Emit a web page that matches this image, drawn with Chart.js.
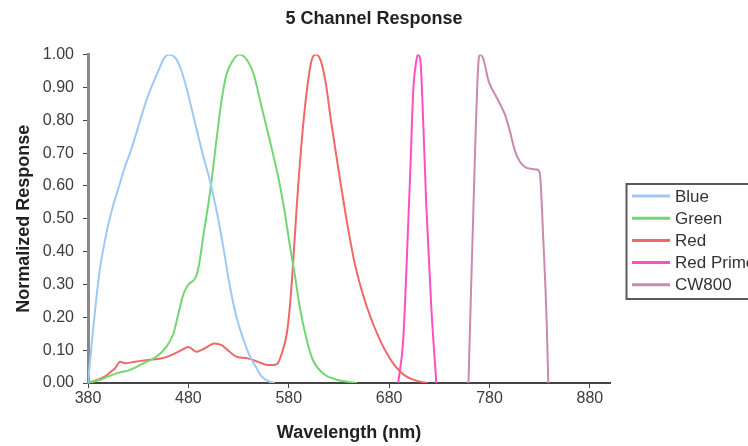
<!DOCTYPE html>
<html>
<head>
<meta charset="utf-8">
<title>5 Channel Response</title>
<script src="https://cdn.jsdelivr.net/npm/chart.js@4/dist/chart.umd.min.js"></script>
<style>
    html, body { margin: 0; padding: 0; background: #fff; }
    canvas { display: block; }
</style>
</head>
<body>
<canvas id="responseChart" width="748" height="446"></canvas>
<script>
// wavelength (nm) / normalized response per channel
const blueNm = [380, 384, 388, 392, 396, 400, 405, 411, 417, 423, 430, 437, 443, 450, 456, 461, 467, 472, 478, 486, 494, 502, 509, 515, 521, 528, 534, 540, 547, 553, 560, 566];
const blueResp = [0, 0.13, 0.25, 0.35, 0.42, 0.48, 0.54, 0.60, 0.66, 0.71, 0.78, 0.85, 0.90, 0.95, 0.99, 1.00, 0.99, 0.96, 0.90, 0.80, 0.70, 0.61, 0.51, 0.41, 0.30, 0.20, 0.14, 0.09, 0.05, 0.02, 0.005, 0];

const greenNm = [380, 392, 400, 409, 422, 435, 448, 458, 465, 470, 475, 480, 487, 490, 495, 502, 508, 513, 518, 525, 531, 538, 545, 553, 561, 570, 576, 581, 586, 591, 598, 604, 614, 628, 648];
const greenResp = [0, 0.01, 0.02, 0.03, 0.04, 0.06, 0.08, 0.11, 0.15, 0.21, 0.27, 0.30, 0.32, 0.35, 0.45, 0.59, 0.74, 0.86, 0.94, 0.985, 1.00, 0.985, 0.94, 0.84, 0.74, 0.62, 0.52, 0.42, 0.33, 0.23, 0.13, 0.07, 0.03, 0.01, 0];

const redNm = [380, 390, 397, 403, 407, 412, 417, 427, 440, 453, 463, 473, 480, 488, 496, 506, 513, 521, 528, 539, 549, 559, 565, 569, 573, 578, 581, 584, 588, 593, 598, 603, 607, 612, 617, 622, 629, 638, 646, 658, 671, 684, 697, 710, 718];
const redResp = [0, 0.01, 0.02, 0.035, 0.045, 0.065, 0.06, 0.065, 0.07, 0.075, 0.085, 0.10, 0.11, 0.095, 0.105, 0.12, 0.115, 0.095, 0.08, 0.075, 0.065, 0.055, 0.055, 0.06, 0.09, 0.15, 0.23, 0.35, 0.54, 0.74, 0.89, 0.985, 1.00, 0.98, 0.91, 0.80, 0.66, 0.49, 0.36, 0.23, 0.13, 0.06, 0.02, 0.005, 0];

const redPrimeNm = [689, 694, 697, 701, 704, 707, 708.5, 711, 714, 717, 722, 727];
const redPrimeResp = [0, 0.13, 0.33, 0.64, 0.89, 0.98, 1.00, 0.985, 0.79, 0.54, 0.23, 0];

const cw800Nm = [759, 764, 769, 770.5, 774, 779, 787, 795, 800, 805, 810, 817, 827, 830, 833.5, 837, 838.5];
const cw800Resp = [0, 0.54, 0.98, 1.00, 0.985, 0.92, 0.87, 0.82, 0.77, 0.71, 0.675, 0.655, 0.65, 0.64, 0.44, 0.18, 0];

const channelNames = ['Blue', 'Green', 'Red', 'Red Prime', 'CW800'];
const channelColors = ['#9fc8f2', '#72d672', '#f06868', '#ff4fc0', '#c98ab0'];

const xTicks = [380, 480, 580, 680, 780, 880];
const yTicks = [0, 0.1, 0.2, 0.3, 0.4, 0.5, 0.6, 0.7, 0.8, 0.9, 1.0];

const FONT = 'Liberation Sans, Arial, sans-serif';

const toPoints = (nm, resp) => nm.map((x, i) => ({ x: x, y: resp[i] }));

const series = [
    toPoints(blueNm, blueResp),
    toPoints(greenNm, greenResp),
    toPoints(redNm, redResp),
    toPoints(redPrimeNm, redPrimeResp),
    toPoints(cw800Nm, cw800Resp),
];

// boxed legend on the right, running off the canvas edge
const boxedLegend = {
    id: 'boxedLegend',
    afterDraw(chart) {
        const ctx = chart.ctx;
        const left = chart.chartArea.right + 16;
        const top = 184;
        const rowH = 22.2;
        ctx.save();
        ctx.strokeStyle = '#5a5a5a';
        ctx.lineWidth = 2;
        ctx.strokeRect(left + 0.5, top, 160, 115);
        ctx.font = '17px ' + FONT;
        ctx.textBaseline = 'middle';
        ctx.fillStyle = '#333';
        chart.data.datasets.forEach((ds, i) => {
            const y = top + 12 + i * rowH;
            ctx.strokeStyle = ds.borderColor;
            ctx.lineWidth = 3;
            ctx.beginPath();
            ctx.moveTo(left + 6, y);
            ctx.lineTo(left + 44, y);
            ctx.stroke();
            ctx.fillText(ds.label, left + 49, y + 1);
        });
        ctx.restore();
    },
};

const ctx = document.getElementById('responseChart').getContext('2d');

new Chart(ctx, {
    type: 'line',
    data: {
        datasets: series.map((pts, i) => ({
            label: channelNames[i],
            data: pts,
            borderColor: channelColors[i],
            backgroundColor: channelColors[i],
            borderWidth: 2,
            pointRadius: 0,
            fill: false,
            cubicInterpolationMode: 'monotone',
        })),
    },
    options: {
        responsive: false,
        animation: false,
        layout: { padding: 0 },
        plugins: {
            legend: { display: false },
            tooltip: { enabled: false },
            title: {
                display: true,
                text: '5 Channel Response',
                color: '#222',
                font: { family: FONT, size: 18, weight: 'bold' },
                padding: { top: 8, bottom: 25 },
            },
        },
        scales: {
            x: {
                type: 'linear',
                min: 380,
                max: 900,
                afterBuildTicks: (axis) => { axis.ticks = xTicks.map((v) => ({ value: v })); },
                afterFit: (axis) => { axis.height = 63; },
                grid: { drawOnChartArea: false, tickLength: 5, tickColor: '#444' },
                border: { color: '#444', width: 2 },
                ticks: {
                    color: '#3c3c3c',
                    padding: 1,
                    maxRotation: 0,
                    font: { family: FONT, size: 16 },
                },
                title: {
                    display: true,
                    text: 'Wavelength (nm)',
                    color: '#222',
                    font: { family: FONT, size: 18, weight: 'bold' },
                    padding: { top: 0, bottom: 2 },
                },
            },
            y: {
                min: 0,
                max: 1,
                afterBuildTicks: (axis) => { axis.ticks = yTicks.map((v) => ({ value: v })); },
                afterFit: (axis) => { axis.width = 88; },
                grid: { drawOnChartArea: false, tickLength: 5, tickColor: '#444' },
                border: { color: '#8a8a8a', width: 3 },
                ticks: {
                    color: '#3c3c3c',
                    padding: 9,
                    font: { family: FONT, size: 16 },
                    callback: (v) => Number(v).toFixed(2),
                },
                title: {
                    display: true,
                    text: 'Normalized Response',
                    color: '#222',
                    font: { family: FONT, size: 18, weight: 'bold' },
                    padding: { top: 13, bottom: 0 },
                },
            },
            // empty strip on the right that holds the legend box
            legendSpace: {
                type: 'linear',
                position: 'right',
                display: true,
                grid: { display: false },
                border: { display: false },
                ticks: { display: false },
                afterFit: (axis) => { axis.width = 138; },
            },
        },
    },
    plugins: [boxedLegend],
});
</script>
</body>
</html>
